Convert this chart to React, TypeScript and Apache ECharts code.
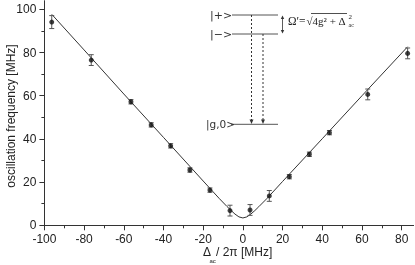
import React, { useEffect, useRef } from "react";
import * as echarts from "echarts";

// measured data points: detuning Δac/2π [MHz], oscillation frequency [MHz], error
const detuning = [-96.3, -76.4, -56.4, -46.2, -36.4, -26.7, -16.6, -6.5, 3.6, 13.3, 23.4, 33.5, 43.6, 62.9, 83.0];
const frequency = [94.1, 76.5, 57.2, 46.5, 36.8, 25.6, 16.3, 6.8, 7.1, 13.6, 22.5, 32.9, 42.9, 60.6, 79.6];
const errors = [3, 2.5, 1, 1, 1, 1, 1, 2.5, 2.5, 2.5, 1, 1, 1, 2.5, 2.5];

// fit curve
const fitX = [-96.3, -80, -60, -40, -20, -12, -8, -6, -4, -2, 0, 2, 4, 6, 8, 12, 20, 40, 60, 83];
const fitY = [97.7, 81.2, 60.8, 40.7, 20.5, 12.5, 8.7, 6.9, 5.2, 3.9, 3.4, 3.9, 5.2, 6.8, 8.6, 12.3, 20.3, 40.1, 60.0, 82.7];

const xMajorTicks = [-100, -80, -60, -40, -20, 0, 20, 40, 60, 80];
const xMinorTicks = [-90, -70, -50, -30, -10, 10, 30, 50, 70];
const yMajorTicks = [0, 20, 40, 60, 80, 100];
const yMinorTicks = [10, 30, 50, 70, 90];

const AXIS_FONT = "Liberation Sans";
const SERIF = "Liberation Serif";
const INK = "#222";
const GRAY = "#555";

export default function App() {
  const ref = useRef<HTMLDivElement>(null);

  useEffect(() => {
    document.body.style.margin = "0";
    if (!ref.current) return;
    const chart = echarts.init(ref.current, undefined, { renderer: "svg" });

    const points = detuning.map((d, i) => [d, frequency[i]]);
    const errData = detuning.map((d, i) => [d, frequency[i], errors[i]]);
    const fit = fitX.map((d, i) => [d, fitY[i]]);

    const axisLine = { show: true, onZero: false, lineStyle: { color: "#333", width: 1 } };
    const hiddenLine = { show: false, onZero: false };

    const lineStyle = { stroke: GRAY, lineWidth: 1 };
    const dash = { stroke: "#333", lineWidth: 1, lineDash: [2, 2] };
    const kets = { fontFamily: "DejaVu Sans", fontSize: 11, fill: "#333" };

    const option: any = {
      animation: false,
      grid: { left: 44.4, right: 1.4, top: 0.7, bottom: 39.7 },
      xAxis: [
        {
          type: "value",
          min: -100,
          max: 86,
          interval: 20,
          position: "bottom",
          axisLine,
          axisTick: { show: true, inside: false, length: 5, customValues: xMajorTicks, lineStyle: { color: "#333" } },
          axisLabel: { customValues: xMajorTicks, fontFamily: AXIS_FONT, fontSize: 12, color: INK, margin: 8 },
          splitLine: { show: false },
        },
        {
          type: "value",
          min: -100,
          max: 86,
          interval: 20,
          position: "bottom",
          axisLine: hiddenLine,
          axisTick: { show: true, inside: false, length: 3, customValues: xMinorTicks, lineStyle: { color: "#333" } },
          axisLabel: { show: false },
          splitLine: { show: false },
        },
      ],
      yAxis: [
        {
          type: "value",
          min: 0,
          max: 104,
          interval: 20,
          position: "left",
          axisLine,
          axisTick: { show: true, inside: false, length: 5, customValues: yMajorTicks, lineStyle: { color: "#333" } },
          axisLabel: { customValues: yMajorTicks, fontFamily: AXIS_FONT, fontSize: 12, color: INK, margin: 8 },
          splitLine: { show: false },
        },
        {
          type: "value",
          min: 0,
          max: 104,
          interval: 20,
          position: "left",
          axisLine: hiddenLine,
          axisTick: { show: true, inside: false, length: 3, customValues: yMinorTicks, lineStyle: { color: "#333" } },
          axisLabel: { show: false },
          splitLine: { show: false },
        },
      ],
      series: [
        {
          type: "line",
          data: fit,
          showSymbol: false,
          smooth: false,
          lineStyle: { color: "#333", width: 1 },
          z: 2,
        },
        {
          type: "custom",
          data: errData,
          z: 3,
          renderItem: (params: any, api: any) => {
            const x = api.value(0);
            const y = api.value(1);
            const e = api.value(2);
            const top = api.coord([x, y + e]);
            const bot = api.coord([x, y - e]);
            const w = 2.5;
            return {
              type: "group",
              children: [
                { type: "line", shape: { x1: top[0], y1: top[1], x2: bot[0], y2: bot[1] }, style: lineStyle },
                { type: "line", shape: { x1: top[0] - w, y1: top[1], x2: top[0] + w, y2: top[1] }, style: lineStyle },
                { type: "line", shape: { x1: bot[0] - w, y1: bot[1], x2: bot[0] + w, y2: bot[1] }, style: lineStyle },
              ],
            };
          },
        },
        {
          type: "scatter",
          data: points,
          symbol: "circle",
          symbolSize: 5,
          itemStyle: { color: "#111" },
          z: 4,
        },
      ],
      graphic: [
        // y-axis name
        {
          type: "text",
          x: 11,
          y: 116,
          rotation: Math.PI / 2,
          style: {
            text: "oscillation frequency [MHz]",
            fontFamily: AXIS_FONT,
            fontSize: 12,
            fill: INK,
            align: "center",
            verticalAlign: "middle",
          },
        },
        // x-axis name
        { type: "text", x: 203, y: 252, style: { text: "Δ", fontFamily: AXIS_FONT, fontSize: 12, fill: INK, verticalAlign: "middle" } },
        { type: "text", x: 209.5, y: 261, style: { text: "ac", fontFamily: AXIS_FONT, fontSize: 6, fill: INK, verticalAlign: "middle" } },
        { type: "text", x: 216, y: 252, style: { text: "/ 2π [MHz]", fontFamily: AXIS_FONT, fontSize: 12, fill: INK, verticalAlign: "middle" } },

        // inset: energy levels
        { type: "line", shape: { x1: 232, y1: 15, x2: 278, y2: 15 }, style: lineStyle },
        { type: "line", shape: { x1: 232, y1: 34, x2: 278, y2: 34 }, style: lineStyle },
        { type: "line", shape: { x1: 231, y1: 124.3, x2: 278, y2: 124.3 }, style: lineStyle },
        { type: "text", x: 210, y: 15, style: { ...kets, text: "|+>", verticalAlign: "middle" } },
        { type: "text", x: 210, y: 34, style: { ...kets, text: "|−>", verticalAlign: "middle" } },
        { type: "text", x: 206, y: 124.3, style: { ...kets, fontSize: 10.5, text: "|g,0>", verticalAlign: "middle" } },
        // dotted transitions
        { type: "line", shape: { x1: 251.5, y1: 15, x2: 251.5, y2: 121 }, style: dash },
        { type: "line", shape: { x1: 263, y1: 34, x2: 263, y2: 121 }, style: dash },
        { type: "polygon", shape: { points: [[249.5, 119.5], [253.5, 119.5], [251.5, 124]] }, style: { fill: "#333" } },
        { type: "polygon", shape: { points: [[261, 119.5], [265, 119.5], [263, 124]] }, style: { fill: "#333" } },
        // double arrow between |+> and |->
        { type: "line", shape: { x1: 282.5, y1: 18, x2: 282.5, y2: 31 }, style: { stroke: "#333", lineWidth: 0.8 } },
        { type: "polygon", shape: { points: [[280.8, 19], [284.2, 19], [282.5, 15.5]] }, style: { fill: "#333" } },
        { type: "polygon", shape: { points: [[280.8, 30], [284.2, 30], [282.5, 33.5]] }, style: { fill: "#333" } },
        // formula (one text line, then stacked super/subscript)
        {
          type: "text",
          x: 288,
          y: 20.5,
          style: {
            text: "{a|Ω′=}{r|√}{t|4g² + Δ}",
            verticalAlign: "middle",
            rich: {
              a: { fontFamily: SERIF, fontSize: 11.5, fill: "#222", padding: [0, 1, 0, 0] },
              r: { fontFamily: SERIF, fontSize: 11, fill: "#222" },
              t: { fontFamily: SERIF, fontSize: 11, fill: "#222" },
            },
          },
        },
        { type: "line", shape: { x1: 311, y1: 13.5, x2: 347, y2: 13.5 }, style: { stroke: "#222", lineWidth: 0.8 } },
        {
          type: "text",
          x: 348.5,
          y: 20.5,
          style: {
            text: "{s|2}\n{b|ac}",
            verticalAlign: "middle",
            rich: {
              s: { fontFamily: SERIF, fontSize: 7, lineHeight: 8, fill: "#222" },
              b: { fontFamily: SERIF, fontSize: 6, lineHeight: 8, fill: "#222" },
            },
          },
        },
      ],
    };

    chart.setOption(option);
    return () => chart.dispose();
  }, []);

  return <div ref={ref} style={{ position: "fixed", left: 0, top: 0, width: 415, height: 265 }} />;
}
